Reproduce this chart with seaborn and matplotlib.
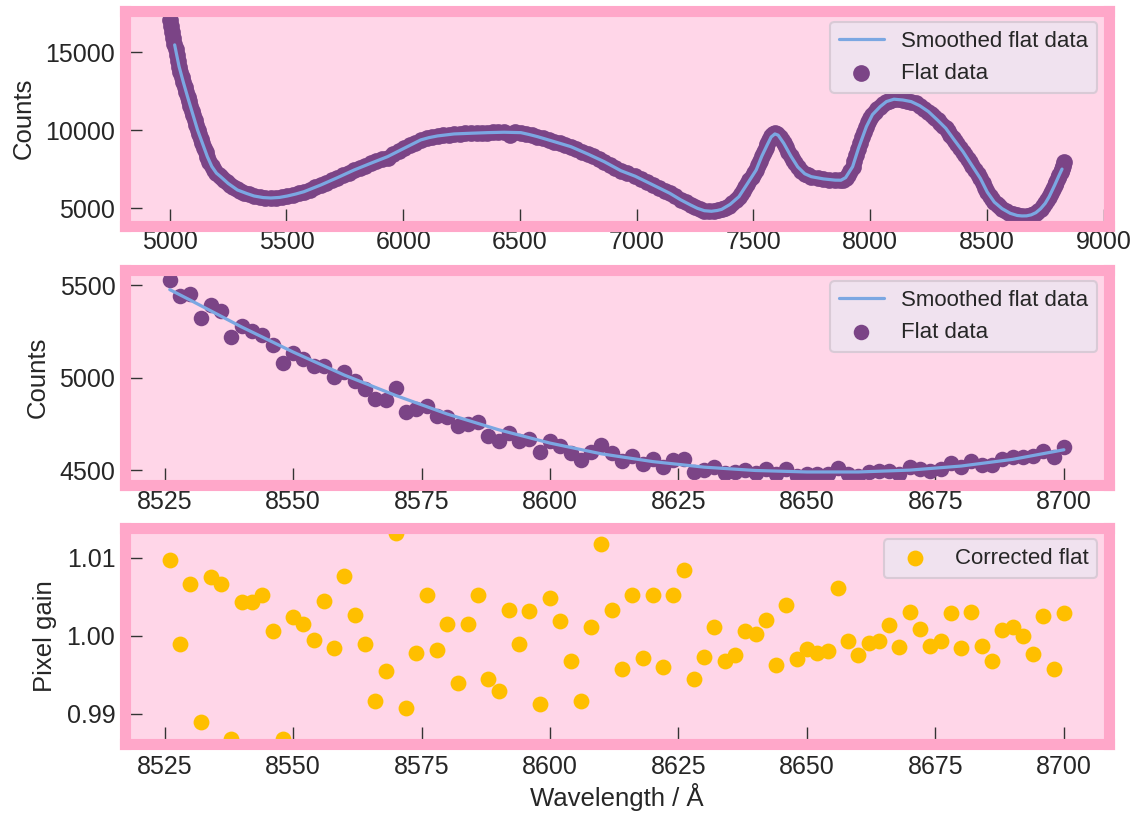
import matplotlib
matplotlib.use("Agg")
import matplotlib.pyplot as plt
import pandas as pd
import seaborn as sns

# ---------------------------------------------------------------------------
# Full flat-field spectrum (wavelength in Angstrom, counts)
# ---------------------------------------------------------------------------
flat_wave = [
    5000, 5005, 5010, 5015, 5020, 5025, 5030, 5035, 5040, 5046, 5052, 5058,
    5064, 5070, 5076, 5082, 5088, 5094, 5100, 5106, 5112, 5119, 5126, 5133,
    5140, 5147, 5154, 5161, 5170, 5180, 5190, 5200, 5210, 5220, 5232, 5245,
    5258, 5272, 5286, 5300, 5320, 5340, 5361, 5385, 5410, 5433, 5455, 5480,
    5504, 5528, 5552, 5575, 5600, 5623, 5647, 5670, 5694, 5718, 5742, 5766,
    5790, 5814, 5838, 5861, 5885, 5909, 5933, 5957, 5980, 6004, 6028, 6052,
    6075, 6100, 6124, 6147, 6171, 6195, 6218, 6242, 6266, 6290, 6314, 6337,
    6361, 6385, 6408, 6432, 6456, 6480, 6504, 6528, 6551, 6575, 6599, 6623,
    6647, 6670, 6694, 6718, 6742, 6766, 6790, 6814, 6837, 6861, 6885, 6908,
    6932, 6960, 6994, 7020, 7045, 7070, 7095, 7120, 7142, 7165, 7188, 7210,
    7231, 7250, 7270, 7290, 7310, 7330, 7350, 7364, 7380, 7395, 7410, 7424,
    7438, 7447, 7456, 7465, 7474, 7483, 7492, 7502, 7512, 7520, 7528, 7536,
    7544, 7552, 7560, 7568, 7576, 7585, 7594, 7603, 7612, 7621, 7630, 7640,
    7650, 7660, 7670, 7680, 7690, 7705, 7720, 7735, 7748, 7775, 7800, 7825,
    7850, 7870, 7885, 7895, 7905, 7915, 7925, 7933, 7941, 7949, 7957, 7965,
    7973, 7984, 7992, 8000, 8010, 8020, 8031, 8043, 8055, 8067, 8079, 8090,
    8102, 8120, 8140, 8158, 8176, 8195, 8213, 8231, 8250, 8260, 8270, 8280,
    8290, 8300, 8312, 8324, 8334, 8344, 8354, 8364, 8374, 8386, 8398, 8408,
    8418, 8428, 8438, 8448, 8460, 8472, 8482, 8492, 8502, 8512, 8522, 8532,
    8542, 8552, 8565, 8580, 8595, 8610, 8630, 8650, 8670, 8690, 8700, 8710,
    8720, 8730, 8740, 8750, 8758, 8767, 8775, 8783, 8790, 8797, 8804, 8810,
    8816, 8822, 8826, 8830,
]
flat_counts = [
    17060, 16700, 16330, 15950, 15560, 15190, 14810, 14440, 14085, 13740, 13410, 13090,
    12780, 12460, 12157, 11860, 11560, 11260, 10960, 10660, 10360, 10016, 9730, 9440,
    9160, 8870, 8590, 8300, 7980, 7670, 7420, 7240, 7100, 6990, 6830, 6640,
    6470, 6330, 6200, 6100, 5980, 5880, 5772, 5700, 5660, 5643, 5650, 5700,
    5772, 5850, 5950, 6048, 6180, 6330, 6479, 6630, 6790, 6948, 7110, 7280,
    7443, 7590, 7730, 7874, 8010, 8150, 8200, 8480, 8660, 8839, 9020, 9150,
    9374, 9480, 9570, 9630, 9680, 9720, 9758, 9775, 9790, 9803, 9815, 9830,
    9842, 9855, 9862, 9868, 9700, 9855, 9842, 9760, 9680, 9585, 9480, 9370,
    9263, 9160, 9050, 8942, 8790, 8630, 8472, 8310, 8140, 7977, 7790, 7590,
    7398, 7230, 7040, 6860, 6670, 6480, 6300, 6110, 5945, 5740, 5530, 5360,
    5193, 5050, 4920, 4826, 4790, 4800, 4860, 4914, 5020, 5150, 5320, 5510,
    5727, 5920, 6120, 6340, 6560, 6790, 7020, 7230, 7443, 7740, 8040, 8330,
    8600, 8850, 9080, 9350, 9600, 9780, 9850, 9760, 9560, 9360, 9160, 8890,
    8620, 8350, 8100, 7860, 7640, 7380, 7200, 7090, 7013, 6930, 6870, 6820,
    6790, 6780, 6820, 6950, 7150, 7400, 7656, 8000, 8380, 8780, 9170, 9540,
    9870, 10228, 10500, 10760, 11000, 11200, 11370, 11514, 11680, 11810, 11900, 11960,
    11990, 11980, 11940, 11890, 11835, 11720, 11570, 11390, 11192, 11060, 10920, 10780,
    10630, 10480, 10300, 10125, 9920, 9720, 9510, 9300, 9090, 8860, 8620, 8390,
    8160, 7930, 7690, 7450, 7180, 6910, 6600, 6300, 6020, 5770, 5560, 5380,
    5230, 5100, 4960, 4810, 4690, 4600, 4520, 4475, 4490, 4560, 4620, 4700,
    4810, 4950, 5110, 5300, 5500, 5727, 5950, 6190, 6450, 6700, 6920, 7120,
    7300, 7500, 7700, 7960,
]

# Smoothed version of the full spectrum
smooth_wave = [
    5021, 5030, 5040, 5058, 5076, 5097, 5119, 5140, 5161, 5180, 5200, 5218,
    5250, 5290, 5330, 5361, 5400, 5433, 5470, 5504, 5540, 5575, 5647, 5718,
    5790, 5861, 5933, 6004, 6075, 6110, 6147, 6218, 6290, 6361, 6432, 6504,
    6540, 6575, 6647, 6718, 6790, 6861, 6932, 6994, 7070, 7142, 7188, 7231,
    7260, 7290, 7320, 7345, 7364, 7400, 7438, 7475, 7512, 7536, 7560, 7576,
    7592, 7606, 7630, 7660, 7690, 7720, 7748, 7800, 7850, 7875, 7895, 7925,
    7950, 7984, 8010, 8043, 8070, 8102, 8140, 8176, 8213, 8250, 8290, 8324,
    8360, 8398, 8435, 8472, 8502, 8532, 8565, 8600, 8630, 8650, 8670, 8690,
    8710, 8730, 8750, 8767, 8790, 8808, 8822,
]
smooth_counts = [
    15480, 14810, 14085, 13090, 12157, 11110, 10016, 9160, 8300, 7670, 7240, 7013,
    6580, 6157, 5930, 5772, 5670, 5643, 5680, 5772, 5900, 6048, 6479, 6948,
    7443, 7874, 8300, 8839, 9374, 9520, 9630, 9758, 9803, 9842, 9868, 9842,
    9720, 9585, 9263, 8942, 8472, 7977, 7398, 7040, 6480, 5945, 5530, 5193,
    4980, 4826, 4790, 4840, 4914, 5230, 5727, 6580, 7443, 8330, 9080, 9560,
    9760, 9680, 9160, 8350, 7640, 7200, 7013, 6870, 6790, 6785, 6950, 7656,
    8830, 10228, 11000, 11514, 11840, 11990, 11940, 11835, 11570, 11192, 10630, 10125,
    9380, 8620, 7760, 6910, 6020, 5380, 4960, 4660, 4520, 4490, 4495, 4560,
    4700, 4950, 5300, 5727, 6450, 7050, 7500,
]

# ---------------------------------------------------------------------------
# Zoom on the 8525-8700 A window
# ---------------------------------------------------------------------------
zoom_wave = [
    8526, 8528, 8530, 8532, 8534, 8536, 8538, 8540, 8542, 8544, 8546, 8548,
    8550, 8552, 8554, 8556, 8558, 8560, 8562, 8564, 8566, 8568, 8570, 8572,
    8574, 8576, 8578, 8580, 8582, 8584, 8586, 8588, 8590, 8592, 8594, 8596,
    8598, 8600, 8602, 8604, 8606, 8608, 8610, 8612, 8614, 8616, 8618, 8620,
    8622, 8624, 8626, 8628, 8630, 8632, 8634, 8636, 8638, 8640, 8642, 8644,
    8646, 8648, 8650, 8652, 8654, 8656, 8658, 8660, 8662, 8664, 8666, 8668,
    8670, 8672, 8674, 8676, 8678, 8680, 8682, 8684, 8686, 8688, 8690, 8692,
    8694, 8696, 8698, 8700,
]
zoom_counts = [
    5530, 5445, 5454, 5324, 5394, 5360, 5219, 5283, 5256, 5234, 5180, 5083,
    5133, 5103, 5066, 5066, 5007, 5034, 4985, 4940, 4886, 4881, 4946, 4814,
    4832, 4846, 4792, 4791, 4738, 4751, 4760, 4688, 4661, 4703, 4661, 4670,
    4598, 4657, 4630, 4592, 4558, 4598, 4638, 4592, 4550, 4580, 4535, 4562,
    4521, 4557, 4562, 4490, 4503, 4517, 4484, 4490, 4503, 4484, 4508, 4481,
    4508, 4472, 4481, 4481, 4479, 4514, 4481, 4472, 4490, 4495, 4499, 4481,
    4517, 4508, 4495, 4508, 4539, 4517, 4553, 4531, 4531, 4562, 4571, 4571,
    4580, 4607, 4575, 4625,
]
zoom_smooth_wave = [
    8526, 8530, 8540, 8550, 8560, 8570, 8580, 8590, 8600, 8610,
    8620, 8630, 8640, 8650, 8660, 8670, 8680, 8690, 8700,
]
zoom_smooth_counts = [
    5477, 5420, 5275, 5140, 5015, 4905, 4805, 4720, 4648, 4590,
    4548, 4518, 4500, 4492, 4492, 4502, 4524, 4560, 4612,
]

# Flat divided by its smoothed version
pixel_gain = [
    1.0097, 0.9990, 1.0066, 0.9889, 1.0075, 1.0066, 0.9868, 1.0044, 1.0044, 1.0053,
    1.0006, 0.9867, 1.0024, 1.0015, 0.9995, 1.0045, 0.9985, 1.0077, 1.0027, 0.9990,
    0.9917, 0.9955, 1.0132, 0.9908, 0.9978, 1.0052, 0.9982, 1.0015, 0.9939, 1.0015,
    1.0053, 0.9944, 0.9929, 1.0033, 0.9990, 1.0032, 0.9912, 1.0048, 1.0019, 0.9968,
    0.9917, 1.0012, 1.0118, 1.0033,
    0.9957, 1.0053, 0.9972, 1.0052, 0.9960, 1.0053, 1.0084, 0.9945, 0.9973, 1.0011,
    0.9968, 0.9975, 1.0006, 1.0003, 1.0020, 0.9963, 1.0039, 0.9970, 0.9983, 0.9978,
    0.9981, 1.0061, 0.9993, 0.9976, 0.9991, 0.9994, 1.0014, 0.9986, 1.0030, 1.0009,
    0.9987, 0.9993, 1.0029, 0.9984, 1.0030, 0.9987, 0.9968, 1.0007, 1.0011, 1.0000,
    0.9977, 1.0026, 0.9957, 1.0029,
]

full_df = pd.DataFrame({"wave": flat_wave, "counts": flat_counts})
full_smooth_df = pd.DataFrame({"wave": smooth_wave, "counts": smooth_counts})
zoom_df = pd.DataFrame({"wave": zoom_wave, "counts": zoom_counts, "gain": pixel_gain})
zoom_smooth_df = pd.DataFrame({"wave": zoom_smooth_wave, "counts": zoom_smooth_counts})

# ---------------------------------------------------------------------------
# Styling
# ---------------------------------------------------------------------------
sns.set_theme(style="ticks")
plt.rcParams["font.family"] = ["Liberation Sans", "DejaVu Sans"]
plt.rcParams["text.color"] = "#262626"
plt.rcParams["axes.labelcolor"] = "#262626"

FACE = "#ffd6e8"
EDGE = "#ffa7c9"
PURPLE = "#7b4486"
BLUE = "#7ba7e2"
AMBER = "#ffbf00"
LEGEND_FACE = "#f0e2ef"
LEGEND_EDGE = "#d9cad6"

fig = plt.figure(figsize=(11.41, 8.14), dpi=100)
left, width, height = 0.1096, 0.8620, 0.2647
ax_full = fig.add_axes([left, 0.7224, width, height])
ax_zoom = fig.add_axes([left, 0.4036, width, height])
ax_gain = fig.add_axes([left, 0.0865, width, height])


def style_axes(ax, xpad=3):
    ax.set_facecolor(FACE)
    for spine in ax.spines.values():
        spine.set_visible(True)
        spine.set_color(EDGE)
        spine.set_linewidth(8)
        spine.set_zorder(3)
    ax.tick_params(direction="in", length=12.5, width=1.0, color="#333333",
                   labelsize=18, labelcolor="#262626",
                   top=False, right=False)
    ax.tick_params(axis="x", pad=xpad)
    ax.tick_params(axis="y", pad=7)


def add_legend(ax):
    leg = ax.legend(loc="upper right", fontsize=16, frameon=True,
                    facecolor=LEGEND_FACE, edgecolor=LEGEND_EDGE, framealpha=1)
    leg.get_frame().set_linewidth(1.5)
    for txt in leg.get_texts():
        txt.set_color("#262626")
    return leg


# Top: full spectrum
sns.lineplot(data=full_smooth_df, x="wave", y="counts", ax=ax_full, color=BLUE,
             linewidth=2.3, errorbar=None, label="Smoothed flat data", legend=False)
sns.scatterplot(data=full_df, x="wave", y="counts", ax=ax_full, color=PURPLE,
                s=145, linewidth=0, label="Flat data", legend=False)
style_axes(ax_full)
ax_full.set_xticks([5000, 5500, 6000, 6500, 7000, 7500, 8000, 8500, 9000])
ax_full.set_yticks([5000, 10000, 15000])
ax_full.set_xlabel("")
ax_full.set_ylabel("Counts", fontsize=18.5, labelpad=7)
add_legend(ax_full)

# Middle: zoomed window
sns.lineplot(data=zoom_smooth_df, x="wave", y="counts", ax=ax_zoom, color=BLUE,
             linewidth=2.3, errorbar=None, label="Smoothed flat data", legend=False)
sns.scatterplot(data=zoom_df, x="wave", y="counts", ax=ax_zoom, color=PURPLE,
                s=125, linewidth=0, label="Flat data", legend=False)
style_axes(ax_zoom)
ax_zoom.set_xticks([8525, 8550, 8575, 8600, 8625, 8650, 8675, 8700])
ax_zoom.set_yticks([4500, 5000, 5500])
ax_zoom.set_xlabel("")
ax_zoom.set_ylabel("Counts", fontsize=18.5, labelpad=7)
add_legend(ax_zoom)

# Bottom: pixel gain
sns.scatterplot(data=zoom_df, x="wave", y="gain", ax=ax_gain, color=AMBER,
                s=130, linewidth=0, label="Corrected flat", legend=False)
style_axes(ax_gain, xpad=8)
ax_gain.set_xlim(ax_zoom.get_xlim())
ax_gain.set_ylim(0.98617, 1.01383)
ax_gain.set_xticks([8525, 8550, 8575, 8600, 8625, 8650, 8675, 8700])
ax_gain.set_yticks([0.99, 1.00, 1.01])
ax_gain.set_yticklabels(["0.99", "1.00", "1.01"])
ax_gain.set_xlabel("Wavelength / Å", fontsize=18.5, labelpad=3)
ax_gain.set_ylabel("Pixel gain", fontsize=18.5, labelpad=7)
add_legend(ax_gain)

fig.savefig("out.png", dpi=100, facecolor="white")
